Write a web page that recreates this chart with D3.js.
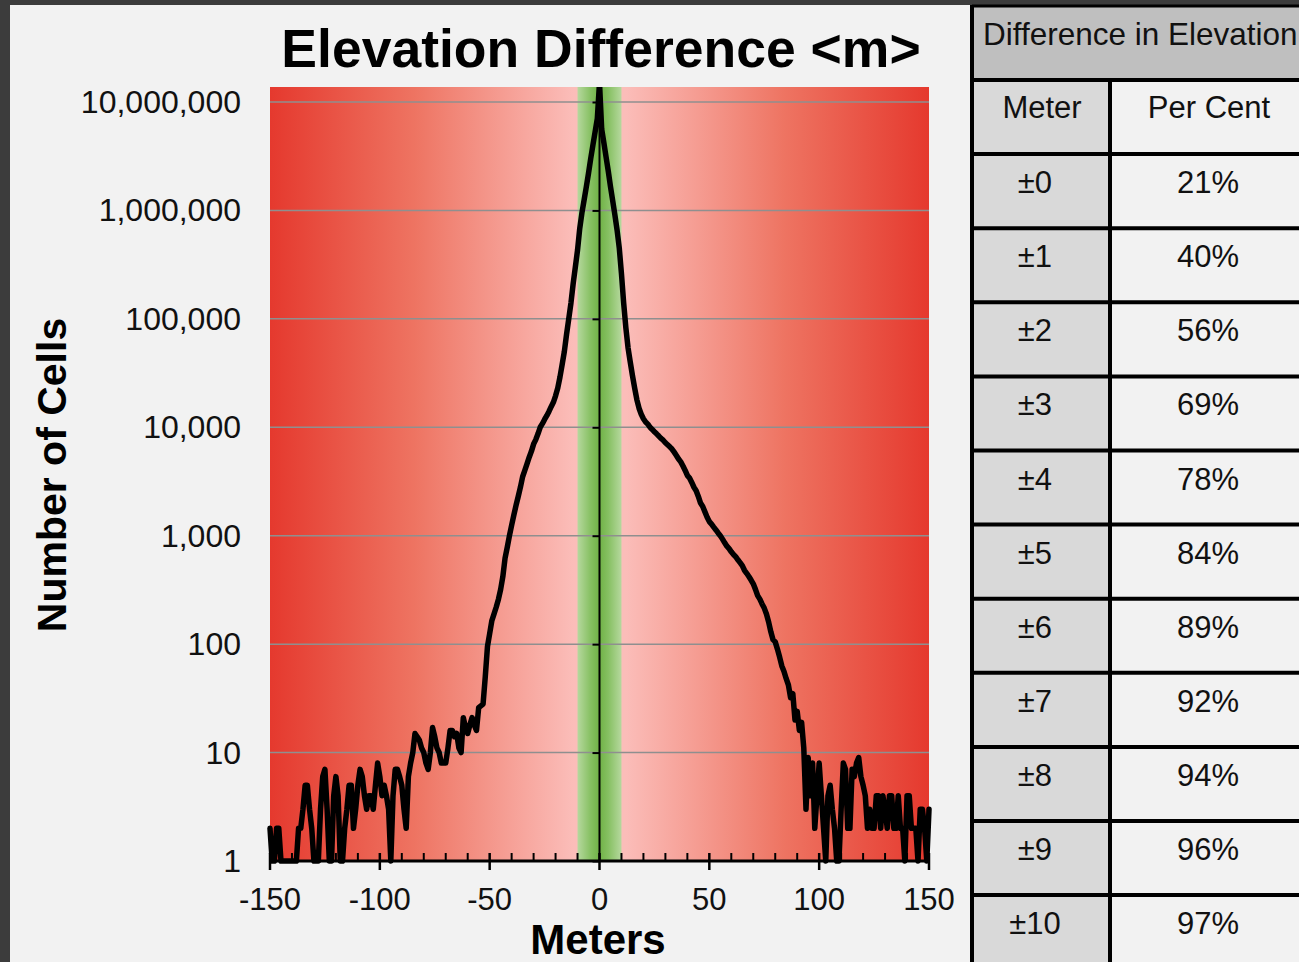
<!DOCTYPE html>
<html><head><meta charset="utf-8">
<script src="https://cdn.jsdelivr.net/npm/d3@7/dist/d3.min.js"></script>
<style>
html,body{margin:0;padding:0;background:#3c3c3c;overflow:hidden;}
svg{display:block;}
</style></head><body>
<svg id="c" width="1299" height="962"></svg>
<script>
// Number of cells per 1 m bin
const xStart = -150; // first bin (meters)
const cellsLeftTail = [ // -150 .. -56
  2,1,1,2,2,1,1,1,1,1,
  1,1,1,2,2,3,5,5,3,2,
  1,1,1,3,6,7,3,1,1,4,
  6,4,1,1,2,3,5,5,2,3,
  5,7,6,4,3,4,4,3,5,8,
  6,4,5,4,3,1,4,7,7,6,
  5,3,2,6,8,10,15,14,13,11,
  10,8,7,10,17,14,11,10,8,8,
  8,11,16,16,14,15,11,10,21,17,
  15,18,21,18,16
];
const cellsCenter = [ // -55 .. 93
  26,27,28,50,95,125,165,190,220,260,
  320,420,620,780,1000,1250,1550,1900,2300,2800,
  3500,4000,4600,5300,6000,7000,7700,8700,10000,10800,
  11800,12800,14000,15500,17000,19500,23000,29000,38000,50000,
  72000,100000,140000,210000,300000,430000,680000,950000,1250000,1650000,
  2200000,3000000,4000000,5300000,7000000,15000000,5600000,4200000,3100000,2300000,
  1660000,1230000,910000,660000,450000,260000,140000,83000,54000,40000,
  30000,23000,18000,15000,13200,12000,11200,10700,10000,9550,
  9100,8700,8300,7900,7600,7200,6900,6600,6300,5900,
  5500,5100,4800,4400,4000,3600,3400,3100,2800,2600,
  2300,2000,1860,1660,1480,1350,1280,1200,1130,1060,
  1000,930,860,800,760,710,670,640,600,565,
  530,480,450,420,390,360,320,280,260,235,
  215,190,160,130,110,105,90,76,63,56,
  48,42,32,35,20,24,16,19,11
];
const cellsRightTail = [ // 94 .. 150
  3,9,4,8,2,4,8,4,2,1,
  4,5,3,2,1,1,3,8,7,2,
  2,7,6,8,9,6,5,4,2,3,
  2,2,4,4,2,4,3,2,4,4,
  2,2,4,2,2,1,4,4,2,2,
  2,1,3,3,2,1,3
];
const xTicks = [-150,-100,-50,0,50,100,150];
const xMinorTicks = [-140,-130,-120,-110,-90,-80,-70,-60,-40,-30,-20,-10,10,20,30,40,60,70,80,90,110,120,130,140];
const yTicks = [1,10,100,1000,10000,100000,1000000,10000000];
const greenBand = [-10,10];
const tableTitle = "Difference in Elevation";
const tableHeads = ["Meter","Per Cent"];
const tableMeters = ["±0","±1","±2","±3","±4","±5","±6","±7","±8","±9","±10"];
const tablePercents = [21,40,56,69,78,84,89,92,94,96,97];

const cells = cellsLeftTail.concat(cellsCenter, cellsRightTail);
const data = cells.map((v,i)=>({m: xStart+i, v: v}));

const F = '"Liberation Sans", Arial, sans-serif';
const svg = d3.select('#c');
svg.append('rect').attr('x',10).attr('y',5).attr('width',962).attr('height',957).attr('fill','#f2f2f2');

const x = d3.scaleLinear().domain([-150,150]).range([270,929]);
const y = d3.scaleLog().domain([1,1e7]).range([861,102]);
const plotTop = 87, plotBot = 861;

const defs = svg.append('defs');
const rg = defs.append('linearGradient').attr('id','rg').attr('x1',0).attr('x2',1).attr('y1',0).attr('y2',0);
[[0,'#e5392e'],[0.22,'#ee7462'],[0.46,'#fbbdb9'],[0.54,'#fbbdb9'],[0.78,'#ee7462'],[1,'#e5392e']]
  .forEach(s=>rg.append('stop').attr('offset',s[0]).attr('stop-color',s[1]));
const gg = defs.append('linearGradient').attr('id','gg').attr('x1',0).attr('x2',1).attr('y1',0).attr('y2',0);
[[0,'#b6d89e'],[0.3,'#86c062'],[0.5,'#70b246'],[0.7,'#86c062'],[1,'#b6d89e']]
  .forEach(s=>gg.append('stop').attr('offset',s[0]).attr('stop-color',s[1]));
defs.append('clipPath').attr('id','clip').append('rect')
  .attr('x',0).attr('y',plotTop).attr('width',1299).attr('height',plotBot-plotTop+10);

// background
svg.append('rect').attr('x',x(-150)).attr('y',plotTop).attr('width',x(150)-x(-150)).attr('height',plotBot-plotTop).attr('fill','url(#rg)');
svg.append('rect').attr('x',x(greenBand[0])).attr('y',plotTop).attr('width',x(greenBand[1])-x(greenBand[0])).attr('height',plotBot-plotTop).attr('fill','url(#gg)');

// gridlines
svg.append('g').selectAll('line').data(yTicks.slice(1)).join('line')
  .attr('x1',x(-150)).attr('x2',x(150)).attr('y1',d=>y(d)).attr('y2',d=>y(d))
  .attr('stroke','#8f8f8f').attr('stroke-width',1.5);

// y axis at x=0
const ya = svg.append('g').attr('transform',`translate(${x(0)},0)`)
  .call(d3.axisLeft(y).tickValues(yTicks).tickSize(7).tickFormat(''));
ya.select('.domain').remove();
ya.selectAll('.tick line').attr('stroke','#000').attr('stroke-width',2);
svg.append('line').attr('x1',x(0)).attr('x2',x(0)).attr('y1',plotTop).attr('y2',plotBot).attr('stroke','#000').attr('stroke-width',2);

// y labels
svg.append('g').selectAll('text').data(yTicks).join('text')
  .attr('x',241).attr('y',d=>y(d)+11).attr('text-anchor','end')
  .attr('font-family',F).attr('font-size',32).attr('fill','#111')
  .text(d=>d3.format(',')(d));

// curve
svg.append('path').datum(data).attr('clip-path','url(#clip)')
  .attr('d', d3.line().x(d=>x(d.m)).y(d=>y(Math.max(1,d.v))))
  .attr('fill','none').attr('stroke','#000').attr('stroke-width',5.5)
  .attr('stroke-linejoin','round').attr('stroke-linecap','round');

// x axis
svg.append('line').attr('x1',x(-150)).attr('x2',x(150)).attr('y1',plotBot).attr('y2',plotBot).attr('stroke','#000').attr('stroke-width',3);
svg.append('g').selectAll('line').data(xTicks).join('line')
  .attr('x1',d=>x(d)).attr('x2',d=>x(d)).attr('y1',853).attr('y2',870).attr('stroke','#000').attr('stroke-width',2.5);
svg.append('g').selectAll('line').data(xMinorTicks).join('line')
  .attr('x1',d=>x(d)).attr('x2',d=>x(d)).attr('y1',853).attr('y2',861).attr('stroke','#000').attr('stroke-width',2);
svg.append('g').selectAll('text').data(xTicks).join('text')
  .attr('x',d=>x(d)).attr('y',910).attr('text-anchor','middle')
  .attr('font-family',F).attr('font-size',31).attr('fill','#111').text(d=>String(d));

// titles
svg.append('text').attr('x',601).attr('y',67).attr('text-anchor','middle')
  .attr('font-family',F).attr('font-weight','bold').attr('font-size',53.5).attr('fill','#000')
  .text('Elevation Difference <m>');
svg.append('text').attr('transform','translate(66,475) rotate(-90)').attr('text-anchor','middle')
  .attr('font-family',F).attr('font-weight','bold').attr('font-size',41).attr('fill','#000')
  .text('Number of Cells');
svg.append('text').attr('x',598).attr('y',954).attr('text-anchor','middle')
  .attr('font-family',F).attr('font-weight','bold').attr('font-size',42).attr('fill','#000')
  .text('Meters');

// table
const tx0 = 972, tx1 = 1110, tx2 = 1299;
const rowTop = 80, rowH = 74.1;
const t = svg.append('g');
t.append('rect').attr('x',tx0).attr('y',5).attr('width',tx2-tx0).attr('height',rowTop-5).attr('fill','#bfbfbf');
const nRows = tableMeters.length + 1;
for (let i=0;i<nRows;i++){
  const yy = rowTop + i*rowH;
  t.append('rect').attr('x',tx0).attr('y',yy).attr('width',tx1-tx0).attr('height',rowH+2).attr('fill','#d9d9d9');
  t.append('rect').attr('x',tx1).attr('y',yy).attr('width',tx2-tx1).attr('height',rowH+2).attr('fill','#f2f2f2');
}
t.append('text').attr('x',983).attr('y',45).attr('font-family',F).attr('font-size',31.5).attr('fill','#111').text(tableTitle);
t.append('text').attr('x',1042).attr('y',rowTop+38).attr('text-anchor','middle').attr('font-family',F).attr('font-size',31).attr('fill','#111').text(tableHeads[0]);
t.append('text').attr('x',1209).attr('y',rowTop+38).attr('text-anchor','middle').attr('font-family',F).attr('font-size',31).attr('fill','#111').text(tableHeads[1]);
t.selectAll('.tm').data(tableMeters).join('text').attr('class','tm')
  .attr('x',1035).attr('y',(d,i)=>rowTop+(i+1)*rowH+39).attr('text-anchor','middle')
  .attr('font-family',F).attr('font-size',31).attr('fill','#111').text(d=>d);
t.selectAll('.tp').data(tablePercents).join('text').attr('class','tp')
  .attr('x',1208).attr('y',(d,i)=>rowTop+(i+1)*rowH+39).attr('text-anchor','middle')
  .attr('font-family',F).attr('font-size',31).attr('fill','#111').text(d=>d+'%');
// table lines
t.append('line').attr('x1',tx0).attr('x2',tx2).attr('y1',6).attr('y2',6).attr('stroke','#000').attr('stroke-width',3);
for (let i=0;i<nRows;i++){
  const yy = rowTop + i*rowH;
  t.append('line').attr('x1',tx0).attr('x2',tx2).attr('y1',yy).attr('y2',yy).attr('stroke','#000').attr('stroke-width',4);
}
t.append('line').attr('x1',tx0).attr('x2',tx0).attr('y1',5).attr('y2',962).attr('stroke','#000').attr('stroke-width',4);
t.append('line').attr('x1',tx1).attr('x2',tx1).attr('y1',rowTop).attr('y2',962).attr('stroke','#000').attr('stroke-width',4);
</script>
</body></html>
